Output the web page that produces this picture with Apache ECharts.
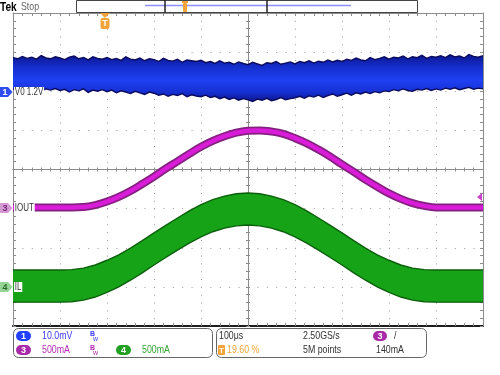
<!DOCTYPE html>
<html><head><meta charset="utf-8">
<script src="https://cdn.jsdelivr.net/npm/echarts@6/dist/echarts.min.js"></script>
<style>html,body{margin:0;padding:0;background:#fff}#c{width:500px;height:375px}</style>
</head><body><div id="c"></div>
<script>
// Time in µs relative to screen centre (100 µs/div); vertical values in divisions.
const blueStepUs = 10;
const blueTop = [
2.86,2.83,2.89,2.84,2.87,2.82,2.91,2.85,2.83,2.88,
2.85,2.81,2.87,2.90,2.83,2.86,2.80,2.88,2.84,2.82,
2.86,2.81,2.84,2.79,2.88,2.82,2.80,2.85,2.78,2.83,
2.81,2.76,2.84,2.79,2.77,2.82,2.74,2.80,2.78,2.76,
2.79,2.73,2.76,2.71,2.78,2.72,2.74,2.69,2.75,2.71,
2.68,2.74,2.70,2.66,2.73,2.71,2.76,2.69,2.72,2.75,
2.70,2.76,2.73,2.78,2.72,2.77,2.74,2.80,2.75,2.79,
2.76,2.82,2.79,2.85,2.80,2.78,2.86,2.81,2.84,2.88,
2.82,2.87,2.85,2.90,2.83,2.88,2.86,2.92,2.84,2.89,
2.87,2.91,2.86,2.93,2.88,2.90,2.85,2.94,2.89,2.87,2.91];
const blueBottom = [
2.05,2.08,2.02,2.07,2.04,2.09,2.01,2.06,2.03,2.07,
2.02,2.05,1.98,2.04,2.01,2.06,1.97,2.03,2.00,2.04,
1.99,2.03,1.96,2.01,1.98,1.94,2.00,1.96,1.92,1.98,
1.95,1.90,1.93,1.87,1.92,1.89,1.94,1.86,1.91,1.88,
1.86,1.90,1.84,1.87,1.81,1.85,1.79,1.83,1.77,1.81,
1.78,1.74,1.80,1.77,1.82,1.76,1.79,1.84,1.78,1.81,
1.83,1.87,1.82,1.88,1.85,1.90,1.84,1.89,1.93,1.87,
1.91,1.95,1.90,1.96,1.93,1.98,1.94,1.99,1.96,2.01,
1.99,2.04,2.01,2.06,2.02,2.00,2.05,2.03,2.07,2.02,
2.06,2.03,2.08,2.05,2.09,2.04,2.07,2.10,2.05,2.08,2.06];

const traceStepUs = 25;
const ioutCenter = [
-0.97,-0.97,-0.97,-0.97,-0.97,-0.97,-0.96,-0.91,-0.82,-0.70,
-0.55,-0.37,-0.18,0.02,0.21,0.40,0.58,0.73,0.85,0.94,
0.99,1.00,0.97,0.91,0.80,0.67,0.51,0.33,0.13,-0.06,
-0.26,-0.44,-0.61,-0.75,-0.86,-0.93,-0.97,-0.97,-0.97,-0.97,-0.97];
const ilTop = [
-2.57,-2.57,-2.57,-2.57,-2.57,-2.56,-2.52,-2.44,-2.32,-2.18,
-2.01,-1.82,-1.62,-1.43,-1.24,-1.06,-0.90,-0.77,-0.68,-0.62,
-0.60,-0.62,-0.68,-0.77,-0.90,-1.06,-1.24,-1.43,-1.62,-1.82,
-2.01,-2.18,-2.32,-2.44,-2.52,-2.56,-2.57,-2.57,-2.57,-2.57,-2.57];
const ilBottom = [
-3.39,-3.39,-3.39,-3.39,-3.39,-3.38,-3.34,-3.26,-3.14,-3.00,
-2.83,-2.64,-2.44,-2.25,-2.06,-1.88,-1.72,-1.59,-1.50,-1.44,
-1.42,-1.44,-1.50,-1.59,-1.72,-1.88,-2.06,-2.25,-2.44,-2.64,
-2.83,-3.00,-3.14,-3.26,-3.34,-3.38,-3.39,-3.39,-3.39,-3.39,-3.39];

const xMin = -500, xMax = 500, xDiv = 100;
const yMin = -4, yMax = 4, yDiv = 1;

const blueT = blueTop.map((_, i) => xMin + i * blueStepUs);
const traceT = ilTop.map((_, i) => xMin + i * traceStepUs);

const F = '"Liberation Sans",Arimo,Arial,sans-serif';
const SX = 0.8; // narrow scope font
const tickCol = '#8c8c8c';

function axisBase(isX) {
  return {
    type: 'value', min: isX ? xMin : yMin, max: isX ? xMax : yMax, interval: isX ? xDiv : yDiv,
    axisLabel: { show: false }, splitLine: { show: false },
    minorTick: { show: true, splitNumber: 5, length: 3, lineStyle: { color: tickCol, width: 1 } },
    axisTick: { show: true, inside: true, length: 3, lineStyle: { color: tickCol, width: 1 } },
    axisLine: { show: true, onZero: false, lineStyle: { color: tickCol, width: 1 } }
  };
}
const xAxes = [];
const yAxes = [];
let a = axisBase(true); a.position = 'bottom'; a.axisLine.lineStyle = { color: '#1e1e1e', width: 2 };
a.splitLine = { show: true, lineStyle: { color: '#9a9a9a', width: 1, type: [1, 6.825] } }; a.z = 0; xAxes.push(a);
a = axisBase(true); a.position = 'top'; a.z = 0; xAxes.push(a);
a = axisBase(true); a.position = 'bottom'; a.axisLine.onZero = true; a.axisLine.onZeroAxisIndex = 0;
a.axisTick.length = 2; a.minorTick.length = 2; a.z = 1; xAxes.push(a);
a = axisBase(true); a.position = 'bottom'; a.axisLine.onZero = true; a.axisLine.onZeroAxisIndex = 0;
a.axisTick.inside = false; a.axisTick.length = 2; a.minorTick.length = 2; a.z = 1; xAxes.push(a);

a = axisBase(false); a.position = 'left';
a.splitLine = { show: true, lineStyle: { color: '#9a9a9a', width: 1, type: [1, 8.4] } }; a.z = 0; yAxes.push(a);
a = axisBase(false); a.position = 'right'; a.z = 0; yAxes.push(a);
a = axisBase(false); a.position = 'left'; a.axisLine.onZero = true; a.axisLine.onZeroAxisIndex = 0;
a.axisTick.length = 2; a.minorTick.length = 2; a.z = 1; yAxes.push(a);
a = axisBase(false); a.position = 'left'; a.axisLine.onZero = true; a.axisLine.onZeroAxisIndex = 0;
a.axisTick.inside = false; a.axisTick.length = 2; a.minorTick.length = 2; a.z = 1; yAxes.push(a);

// A band (envelope of a noisy trace) drawn as one polygon through the axes' scales.
function band(name, xs, lo, hi, fill, edge) {
  return {
    name: name, type: 'custom', silent: true, z: 2, clip: true,
    data: xs.map((t, i) => [t, lo[i], hi[i]]),
    renderItem: function (params, api) {
      if (params.dataIndex !== 0) return null;
      const topPts = xs.map((t, i) => api.coord([t, hi[i]]));
      const botPts = xs.map((t, i) => api.coord([t, lo[i]]));
      const poly = topPts.concat(botPts.slice().reverse());
      return { type: 'group', children: [
        { type: 'polygon', shape: { points: poly }, style: { fill: fill } },
        { type: 'polyline', shape: { points: topPts }, style: { stroke: edge, lineWidth: 1.4, fill: null } },
        { type: 'polyline', shape: { points: botPts }, style: { stroke: edge, lineWidth: 1.4, fill: null } }
      ] };
    },
    encode: { x: 0, y: [1, 2] }
  };
}

const blueFill = new echarts.graphic.LinearGradient(0, 0, 0, 1, [
  { offset: 0, color: '#0c168f' }, { offset: 0.3, color: '#1630d2' },
  { offset: 0.55, color: '#1f40f2' }, { offset: 0.8, color: '#1630d2' }, { offset: 1, color: '#0c168f' }]);

const series = [
  band('ch1', blueT, blueBottom, blueTop, blueFill, '#0a0a5c'),
  band('ch4', traceT, ilBottom, ilTop, '#17a317', '#0b5f0b'),
  { name: 'ch3_edge', type: 'line', symbol: 'none', smooth: 0.4, data: traceT.map((t, i) => [t, ioutCenter[i]]),
    lineStyle: { color: '#84207f', width: 8 }, z: 2, silent: true },
  { name: 'ch3', type: 'line', symbol: 'none', smooth: 0.4, data: traceT.map((t, i) => [t, ioutCenter[i]]),
    lineStyle: { color: '#d81cd8', width: 4.5 }, z: 2, silent: true }
];

function txt(x, y, s, font, fill, extra, sx) {
  return { type: 'text', x: x, y: y, z: 50, scaleX: sx == null ? SX : sx,
    style: Object.assign({ text: s, font: font, fill: fill, verticalAlign: 'middle', align: 'left' }, extra || {}) };
}
function pill(x, y, w, col, label, labCol) {
  return [
    { type: 'rect', z: 50, shape: { x: x, y: y - 5, width: w, height: 10, r: 5 }, style: { fill: col } },
    txt(x + w / 2, y + 0.5, label, 'bold 9px ' + F, labCol || '#fff', { align: 'center' }, 1)
  ];
}
function marker(y, col, label, labCol) {
  return [
    { type: 'polygon', z: 50, shape: { points: [[0, y - 5], [8, y - 5], [12.5, y], [8, y + 5], [0, y + 5]] }, style: { fill: col } },
    txt(5, y + 0.5, label, 'bold 9px ' + F, labCol, { align: 'center' }, 1)
  ];
}
const LBL = { backgroundColor: '#fff', padding: [0, 1] };

const graphic = [].concat(
  [
    txt(0, 7, 'Tek', 'bold 13px ' + F, '#000', null, 0.78),
    txt(21, 7, 'Stop', '11px ' + F, '#666'),
    { type: 'rect', z: 50, shape: { x: 76.5, y: 0.5, width: 341, height: 12 }, style: { fill: '#fff', stroke: '#444', lineWidth: 1 } },
    { type: 'line', z: 51, shape: { x1: 145, y1: 5.5, x2: 351, y2: 5.5 }, style: { stroke: '#8f8fff', lineWidth: 1.5 } },
    { type: 'line', z: 52, shape: { x1: 165, y1: 0, x2: 165, y2: 12.5 }, style: { stroke: '#222', lineWidth: 1.5 } },
    { type: 'line', z: 52, shape: { x1: 267, y1: 0, x2: 267, y2: 12.5 }, style: { stroke: '#222', lineWidth: 1.5 } },
    { type: 'rect', z: 52, shape: { x: 183, y: 3, width: 4, height: 9, r: 1 }, style: { fill: '#f2a33a' } },
    { type: 'rect', z: 52, shape: { x: 182, y: 1, width: 6, height: 2 }, style: { fill: '#f2a33a' } },
    { type: 'polygon', z: 50, shape: { points: [[100, 13], [110, 13], [105, 18]] }, style: { fill: '#f2a33a' } },
    { type: 'rect', z: 50, shape: { x: 100.5, y: 18, width: 9, height: 11, r: 2 }, style: { fill: '#f2a33a' } },
    txt(105, 23.5, 'T', 'bold 9px ' + F, '#fff', { align: 'center' }, 1),
    txt(14, 92, 'V0 1.2V', '10px ' + F, '#333', LBL),
    txt(14, 208, 'IOUT', '10px ' + F, '#333', LBL),
    txt(14, 287, 'IL', '10px ' + F, '#333', LBL),
    { type: 'polygon', z: 50, shape: { points: [[477, 197], [482, 193], [482, 201]] }, style: { fill: '#cc44cc' } },
    { type: 'rect', z: 50, shape: { x: 13.5, y: 328.5, width: 199, height: 29, r: 5 }, style: { fill: 'none', stroke: '#666', lineWidth: 1 } },
    { type: 'rect', z: 50, shape: { x: 216.5, y: 328.5, width: 210, height: 29, r: 5 }, style: { fill: 'none', stroke: '#666', lineWidth: 1 } },
    txt(42, 336, '10.0mV', '11px ' + F, '#3a3aff'),
    txt(90, 334, 'B', 'bold 7px ' + F, '#3a3aff', null, 1),
    txt(93, 339, 'w', '7px ' + F, '#3a3aff', null, 1),
    txt(42, 350, '500mA', '11px ' + F, '#b42cb4'),
    txt(90, 348, 'B', 'bold 7px ' + F, '#b42cb4', null, 1),
    txt(93, 353, 'w', '7px ' + F, '#b42cb4', null, 1),
    txt(142, 350, '500mA', '11px ' + F, '#33a533'),
    txt(219, 336, '100\u03bcs', '11px ' + F, '#333'),
    { type: 'rect', z: 50, shape: { x: 218, y: 345, width: 7, height: 10, r: 1 }, style: { fill: '#f2a33a' } },
    txt(221.5, 350.5, 'T', 'bold 8px ' + F, '#fff', { align: 'center' }, 1),
    txt(227, 350, '19.60 %', '11px ' + F, '#f2a33a'),
    txt(303, 336, '2.50GS/s', '11px ' + F, '#333'),
    txt(303, 350, '5M points', '11px ' + F, '#333'),
    txt(394, 336, '/', '11px ' + F, '#333'),
    txt(376, 350, '140mA', '11px ' + F, '#333')
  ],
  marker(92, '#2f4cf0', '1', '#fff'),
  marker(208, '#d49ad4', '3', '#7a2a7a'),
  marker(287, '#95d495', '4', '#2a6a2a'),
  pill(16, 336, 15, '#2340ff', '1'),
  pill(16, 350, 15, '#a82aa8', '3'),
  pill(116, 350, 15, '#22a022', '4'),
  pill(373, 336, 14, '#a82aa8', '3')
);

const chart = echarts.init(document.getElementById('c'), null, { renderer: 'canvas' });
chart.setOption({
  animation: false,
  backgroundColor: '#fff',
  grid: { left: 13, right: 17, top: 13, bottom: 49, containLabel: false, outerBoundsMode: 'none' },
  xAxis: xAxes,
  yAxis: yAxes,
  series: series,
  graphic: graphic
});
</script></body></html>
